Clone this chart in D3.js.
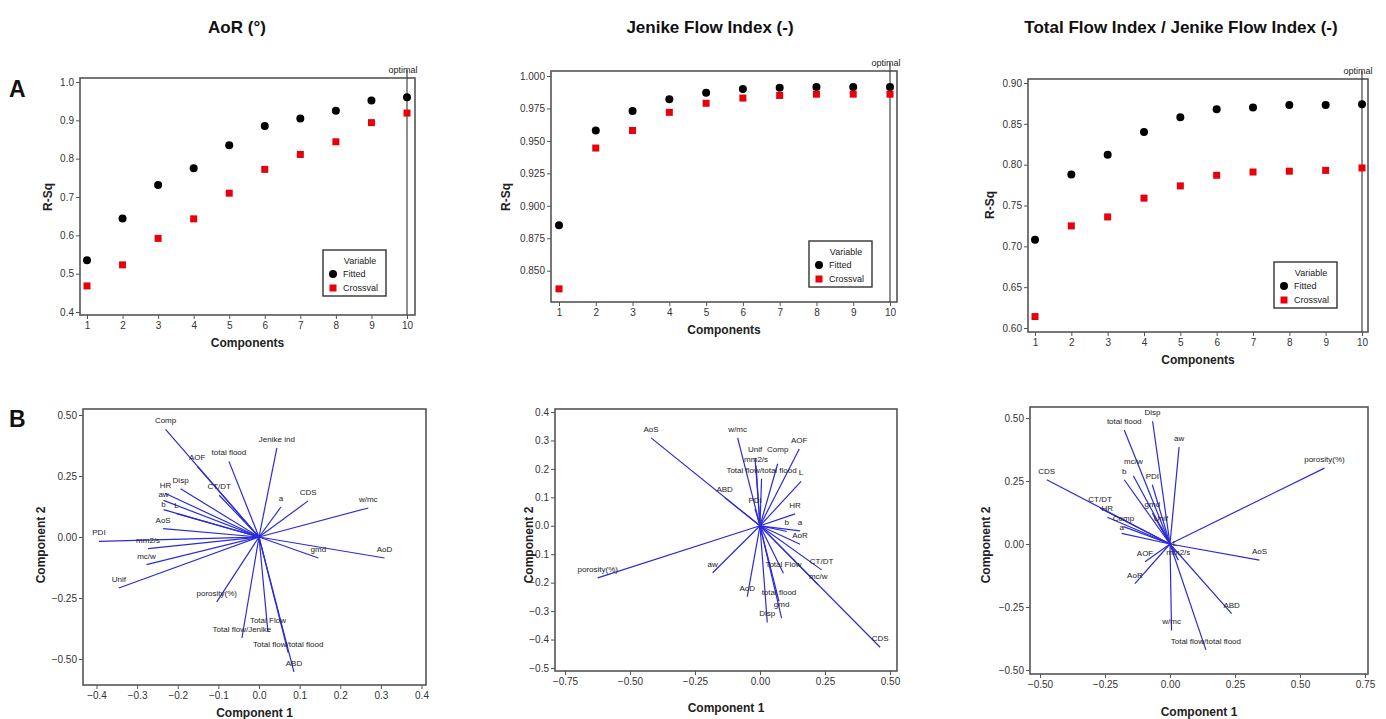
<!DOCTYPE html>
<html><head><meta charset="utf-8">
<script src="https://cdn.jsdelivr.net/npm/d3@7"></script>
<style>
body{margin:0;background:#fff;}
svg{display:block;font-family:'Liberation Sans',Arial,sans-serif;}
.tick text{font-family:'Liberation Sans Narrow','Liberation Sans',Arial,sans-serif;font-size:10px;fill:#333;}
.tick line{stroke:#555;}
.vlab{font-family:'Liberation Sans Narrow','Liberation Sans',Arial,sans-serif;font-size:8px;fill:#222;}
</style></head><body>
<svg id="c" width="1386" height="719"></svg>
<script>
// ---------- DATA ----------
const components=[1,2,3,4,5,6,7,8,9,10];
const aorFitted=[0.535,0.644,0.731,0.775,0.835,0.885,0.905,0.925,0.952,0.960];
const aorCrossval=[0.468,0.523,0.592,0.643,0.710,0.772,0.811,0.844,0.894,0.919];
const jenikeFitted=[0.885,0.958,0.973,0.982,0.987,0.990,0.991,0.9915,0.9915,0.9915];
const jenikeCrossval=[0.836,0.9445,0.958,0.972,0.979,0.983,0.985,0.986,0.986,0.986];
const tfiFitted=[0.708,0.788,0.812,0.840,0.858,0.868,0.870,0.873,0.873,0.874];
const tfiCrossval=[0.614,0.725,0.736,0.759,0.774,0.787,0.791,0.792,0.793,0.796];
const aorRsqTicks=[0.4,0.5,0.6,0.7,0.8,0.9,1.0];
const jenikeRsqTicks=[0.850,0.875,0.900,0.925,0.950,0.975,1.000];
const tfiRsqTicks=[0.60,0.65,0.70,0.75,0.80,0.85,0.90];

const aorVars=["Comp","AOF","total flood","CT/DT","Disp","HR","aw","b","L","AoS","PDI","mm2/s","mc/w","Unif","porosity(%)","Total flow/Jenike","Total Flow","Total flow/total flood","ABD","Jenike ind","a","CDS","w/mc","gmd","AoD"];
const aorPC1=[-0.230,-0.152,-0.074,-0.098,-0.193,-0.230,-0.235,-0.235,-0.203,-0.236,-0.394,-0.273,-0.277,-0.345,-0.104,-0.042,0.022,0.072,0.086,0.044,0.054,0.121,0.269,0.146,0.309];
const aorPC2=[0.441,0.290,0.310,0.171,0.198,0.178,0.150,0.112,0.096,0.034,-0.018,-0.048,-0.113,-0.209,-0.266,-0.414,-0.389,-0.475,-0.553,0.365,0.123,0.148,0.119,-0.086,-0.086];

const jenVars=["AoS","ABD","porosity(%)","aw","w/mc","Unif","mm2/s","Comp","AOF","Total flow/total flood","L","PDI","HR","b","a","AoR","CT/DT","mc/w","Total Flow","AoD","total flood","Disp","gmd","CDS"];
const jenPC1=[-0.419,-0.136,-0.624,-0.182,-0.086,-0.019,-0.015,0.068,0.151,0.006,0.158,-0.019,0.135,0.103,0.154,0.154,0.237,0.224,0.090,-0.049,0.073,0.028,0.083,0.462];
const jenPC2=[0.309,0.099,-0.183,-0.165,0.309,0.238,0.211,0.218,0.270,0.165,0.156,0.060,0.042,-0.020,-0.018,-0.065,-0.155,-0.208,-0.167,-0.249,-0.266,-0.340,-0.325,-0.427];

const tfiVars=["CDS","total flood","Disp","aw","b","mc/w","PDI","gmd","Unif","CT/DT","HR","Comp","a","AOF","AoR","L","mm2/s","porosity(%)","AoS","w/mc","Total flow/total flood","ABD"];
const tfiPC1=[-0.474,-0.176,-0.067,0.035,-0.176,-0.141,-0.068,-0.068,-0.035,-0.269,-0.241,-0.179,-0.186,-0.096,-0.135,0.019,0.032,0.594,0.344,0.006,0.138,0.237];
const tfiPC2=[0.255,0.452,0.487,0.385,0.255,0.271,0.235,0.122,0.069,0.142,0.106,0.069,0.042,-0.070,-0.157,-0.030,-0.064,0.301,-0.064,-0.343,-0.420,-0.276];

const aorPC1Ticks=[-0.4,-0.3,-0.2,-0.1,0.0,0.1,0.2,0.3,0.4];
const aorPC2Ticks=[-0.50,-0.25,0.00,0.25,0.50];
const jenPC1Ticks=[-0.75,-0.50,-0.25,0.00,0.25,0.50];
const jenPC2Ticks=[-0.5,-0.4,-0.3,-0.2,-0.1,0.0,0.1,0.2,0.3,0.4];
const tfiPC1Ticks=[-0.50,-0.25,0.00,0.25,0.50,0.75];
const tfiPC2Ticks=[-0.50,-0.25,0.00,0.25,0.50];

const titles=["AoR (°)","Jenike Flow Index (-)","Total Flow Index / Jenike Flow Index (-)"];

// ---------- DRAW ----------
const svg=d3.select("#c");
const frameCol="#555";

function axes(g,box,x,y,xt,yt,xf,yf){
  const ya=g.append("g").attr("transform",`translate(${box.x0},0)`)
    .call(d3.axisLeft(y).tickValues(yt).tickFormat(d3.format(yf)).tickSize(4).tickPadding(2));
  const xa=g.append("g").attr("transform",`translate(0,${box.y1})`)
    .call(d3.axisBottom(x).tickValues(xt).tickFormat(typeof xf==="string"?d3.format(xf):xf).tickSize(4).tickPadding(3));
  ya.select(".domain").remove(); xa.select(".domain").remove();
  g.append("rect").attr("x",box.x0).attr("y",box.y0).attr("width",box.x1-box.x0).attr("height",box.y1-box.y0)
    .attr("fill","none").attr("stroke",frameCol).attr("stroke-width",1.6);
}

function rsqPanel(c){
  const g=svg.append("g");
  const x=d3.scaleLinear().domain([1,10]).range(c.xr);
  const y=d3.scaleLinear().domain(c.yd).range(c.yr);
  axes(g,c.box,x,y,components,c.ticks,d=>d,c.fmt);
  g.append("line").attr("x1",x(10)).attr("x2",x(10)).attr("y1",c.box.y0-8).attr("y2",c.box.y1)
    .attr("stroke","#444").attr("stroke-width",1.2);
  g.append("text").attr("x",x(10)-4).attr("y",c.box.y0-5).attr("text-anchor","middle")
    .attr("font-size",9).attr("fill","#222").attr("font-family","'Liberation Sans Narrow','Liberation Sans',Arial").text("optimal");
  g.selectAll(".fit").data(c.fitted).join("circle").attr("cx",(d,i)=>x(components[i])).attr("cy",d=>y(d)).attr("r",4).attr("fill","#000");
  g.selectAll(".cv").data(c.cross).join("rect").attr("x",(d,i)=>x(components[i])-3.5).attr("y",d=>y(d)-3.5)
    .attr("width",7).attr("height",7).attr("fill","#e8000b");
  g.append("text").attr("x",(c.box.x0+c.box.x1)/2).attr("y",c.box.y1+32).attr("text-anchor","middle")
    .attr("font-weight","bold").attr("font-size",12).attr("fill","#222").text("Components");
  g.append("text").attr("transform",`translate(${c.yl[0]},${c.yl[1]}) rotate(-90)`).attr("text-anchor","middle")
    .attr("font-weight","bold").attr("font-size",12).attr("fill","#222").text("R-Sq");
  const L=c.leg;
  const lg=g.append("g").attr("font-family","'Liberation Sans Narrow','Liberation Sans',Arial").attr("font-size",9).attr("fill","#222");
  lg.append("rect").attr("x",L[0]).attr("y",L[1]).attr("width",63).attr("height",46).attr("fill","#fff").attr("stroke","#333").attr("stroke-width",1.4);
  lg.append("text").attr("x",L[0]+37).attr("y",L[1]+14).attr("text-anchor","middle").text("Variable");
  lg.append("circle").attr("cx",L[0]+10).attr("cy",L[1]+24).attr("r",4).attr("fill","#000");
  lg.append("text").attr("x",L[0]+20).attr("y",L[1]+27).text("Fitted");
  lg.append("rect").attr("x",L[0]+6.5).attr("y",L[1]+34.5).attr("width",7).attr("height",7).attr("fill","#e8000b");
  lg.append("text").attr("x",L[0]+20).attr("y",L[1]+41).text("Crossval");
}

rsqPanel({box:{x0:80,x1:415,y0:78,y1:315},xr:[87,407],yd:[0.4,1.0],yr:[312,82],ticks:aorRsqTicks,fmt:".1f",
  fitted:aorFitted,cross:aorCrossval,leg:[323,250],yl:[52,197]});
rsqPanel({box:{x0:551,x1:897,y0:71,y1:302},xr:[559,890],yd:[0.85,1.0],yr:[270.7,76],ticks:jenikeRsqTicks,fmt:".3f",
  fitted:jenikeFitted,cross:jenikeCrossval,leg:[809,241],yl:[510,197]});
rsqPanel({box:{x0:1028,x1:1368,y0:79,y1:332},xr:[1035,1362],yd:[0.6,0.9],yr:[328,83],ticks:tfiRsqTicks,fmt:".2f",
  fitted:tfiFitted,cross:tfiCrossval,leg:[1274,262],yl:[994,205]});

function overlap(a,b){return a.x<b.x+b.width&&b.x<a.x+a.width&&a.y<b.y+b.height&&b.y<a.y+a.height;}

function biplot(c){
  const g=svg.append("g");
  const x=d3.scaleLinear().domain(c.xd).range(c.xr);
  const y=d3.scaleLinear().domain(c.yd).range(c.yr);
  axes(g,c.box,x,y,c.xt,c.yt,c.xf,c.yf);
  const idx=d3.range(c.names.length);
  g.selectAll(".vec").data(idx).join("line")
    .attr("x1",x(0)).attr("y1",y(0)).attr("x2",i=>x(c.pc1[i])).attr("y2",i=>y(c.pc2[i]))
    .attr("stroke","#2b2bd6").attr("stroke-width",1.2);
  const labs=g.selectAll(".vl").data(idx).join("text").attr("class","vlab")
    .attr("x",i=>x(c.pc1[i])).attr("y",i=>y(c.pc2[i])-6).attr("text-anchor","middle").text(i=>c.names[i]);
  // nudge overlapping labels apart vertically
  const nodes=labs.nodes();
  for(let pass=0;pass<3;pass++){
    for(let i=0;i<nodes.length;i++){
      for(let j=0;j<i;j++){
        const a=nodes[i].getBBox(), b=nodes[j].getBBox();
        if(overlap(a,b)){
          const up=a.y<b.y;
          const shift=up?(a.y+a.height-b.y+0.5):-(b.y+b.height-a.y+0.5);
          nodes[i].setAttribute("y",+nodes[i].getAttribute("y")-shift);
        }
      }
    }
  }
  g.append("text").attr("x",(c.box.x0+c.box.x1)/2).attr("y",c.xl).attr("text-anchor","middle")
    .attr("font-weight","bold").attr("font-size",12).attr("fill","#222").text("Component 1");
  g.append("text").attr("transform",`translate(${c.yl[0]},${c.yl[1]}) rotate(-90)`).attr("text-anchor","middle")
    .attr("font-weight","bold").attr("font-size",12).attr("fill","#222").text("Component 2");
}

biplot({box:{x0:83,x1:426,y0:409,y1:685},xd:[0,0.4],xr:[259,421.5],yd:[0,0.5],yr:[537,415],
  xt:aorPC1Ticks,yt:aorPC2Ticks,xf:".1f",yf:".2f",names:aorVars,pc1:aorPC1,pc2:aorPC2,yl:[45,545],xl:717});
biplot({box:{x0:555,x1:897,y0:409,y1:671},xd:[-0.75,0.5],xr:[565,890],yd:[0.4,-0.5],yr:[412,668],
  xt:jenPC1Ticks,yt:jenPC2Ticks,xf:".2f",yf:".1f",names:jenVars,pc1:jenPC1,pc2:jenPC2,yl:[533,545],xl:712});
biplot({box:{x0:1030,x1:1368,y0:407,y1:674},xd:[-0.5,0.75],xr:[1040,1365],yd:[0.5,-0.5],yr:[418,670],
  xt:tfiPC1Ticks,yt:tfiPC2Ticks,xf:".2f",yf:".2f",names:tfiVars,pc1:tfiPC1,pc2:tfiPC2,yl:[990,545],xl:716});

const tx=[237,710,1181];
svg.selectAll(".ttl").data(titles).join("text").attr("x",(d,i)=>tx[i]).attr("y",33).attr("text-anchor","middle")
  .attr("font-weight","bold").attr("font-size",17).attr("fill","#111").text(d=>d);
svg.append("text").attr("x",9).attr("y",97).attr("font-weight","bold").attr("font-size",23).attr("fill","#111").text("A");
svg.append("text").attr("x",9).attr("y",427).attr("font-weight","bold").attr("font-size",23).attr("fill","#111").text("B");
</script></body></html>
